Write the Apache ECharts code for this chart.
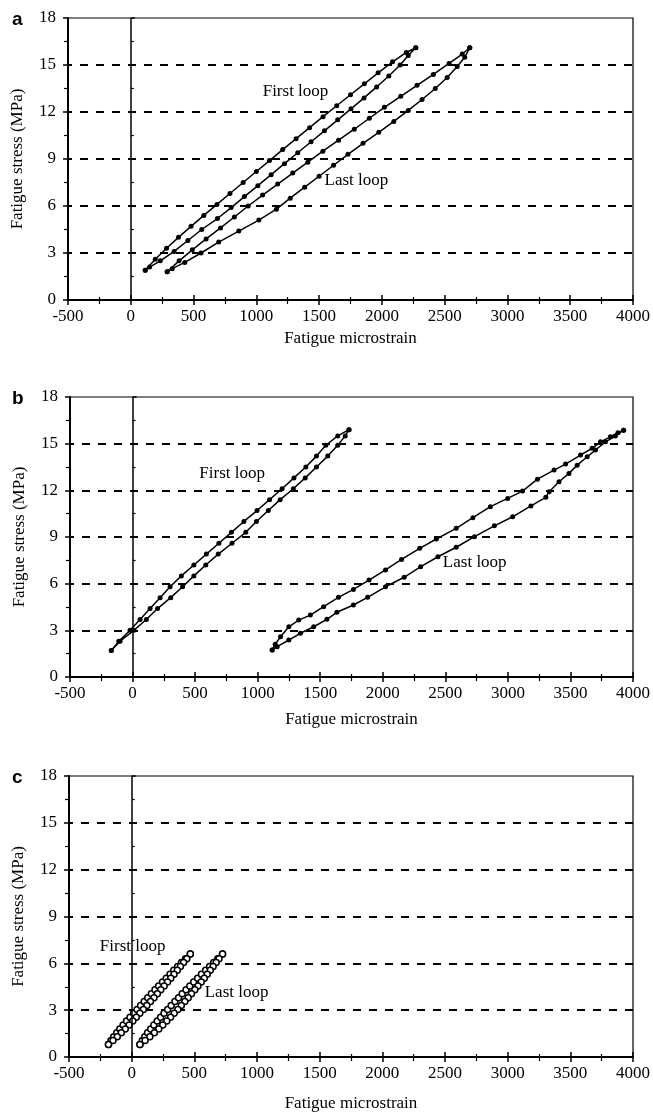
<!DOCTYPE html>
<html>
<head>
<meta charset="utf-8">
<title>Fatigue loops</title>
<script src="https://cdn.jsdelivr.net/npm/echarts@6/dist/echarts.min.js"></script>
<style>
    html, body { margin: 0; padding: 0; background: #fff; }
    #main { width: 653px; height: 1113px; }
</style>
</head>
<body>
<div id="main"></div>
<script>
// 数据 [应变, 应力]
// a 图
var aFirstUp = [[115,1.9],[195,2.6],[285,3.3],[380,4.0],[480,4.7],[582,5.4],[686,6.1],[790,6.8],[895,7.5],[1000,8.2],[1105,8.9],[1210,9.6],[1317,10.3],[1424,11.0],[1531,11.7],[1640,12.4],[1750,13.1],[1860,13.8],[1970,14.5],[2085,15.2],[2195,15.8],[2270,16.1]];
var aFirstDown = [[2270,16.1],[2210,15.6],[2145,15.0],[2055,14.3],[1958,13.6],[1858,12.9],[1754,12.2],[1648,11.5],[1542,10.8],[1436,10.1],[1330,9.4],[1224,8.7],[1118,8.0],[1012,7.3],[905,6.6],[800,5.9],[690,5.2],[565,4.5],[455,3.8],[345,3.1],[235,2.5],[150,2.1],[115,1.9]];
var aLastUp = [[290,1.8],[385,2.5],[490,3.2],[600,3.9],[715,4.6],[825,5.3],[935,6.0],[1050,6.7],[1170,7.4],[1290,8.1],[1410,8.8],[1530,9.5],[1655,10.2],[1780,10.9],[1900,11.6],[2020,12.3],[2150,13.0],[2280,13.7],[2410,14.4],[2535,15.1],[2640,15.7],[2700,16.1]];
var aLastDown = [[2700,16.1],[2660,15.5],[2600,14.9],[2520,14.2],[2425,13.5],[2320,12.8],[2210,12.1],[2095,11.4],[1975,10.7],[1850,10.0],[1730,9.3],[1615,8.6],[1500,7.9],[1385,7.2],[1270,6.5],[1160,5.8],[1020,5.1],[860,4.4],[700,3.7],[560,3.0],[430,2.4],[330,2.0],[290,1.8]];
// b 图
var bFirstUp = [[-170,1.7],[-110,2.3],[-20,3.0],[60,3.7],[140,4.4],[220,5.1],[300,5.8],[390,6.5],[490,7.2],[590,7.9],[690,8.6],[790,9.3],[890,10.0],[995,10.7],[1095,11.4],[1195,12.1],[1290,12.8],[1385,13.5],[1470,14.2],[1545,14.9],[1640,15.5],[1730,15.9]];
var bFirstDown = [[1730,15.9],[1700,15.5],[1640,14.9],[1560,14.2],[1470,13.5],[1380,12.8],[1285,12.1],[1180,11.4],[1085,10.7],[990,10.0],[905,9.3],[795,8.6],[685,7.9],[585,7.2],[490,6.5],[400,5.8],[305,5.1],[200,4.4],[110,3.7],[10,3.0],[-100,2.3],[-170,1.7]];
var bLastUp = [[1116,1.74],[1140,2.1],[1183,2.59],[1249,3.23],[1328,3.66],[1421,3.98],[1527,4.52],[1646,5.12],[1765,5.63],[1890,6.23],[2022,6.88],[2150,7.56],[2295,8.27],[2428,8.87],[2587,9.56],[2720,10.24],[2860,10.95],[2998,11.48],[3117,11.95],[3236,12.72],[3369,13.3],[3461,13.69],[3581,14.27],[3673,14.7],[3740,15.12],[3819,15.44],[3880,15.7],[3925,15.87]];
var bLastDown = [[3925,15.87],[3859,15.49],[3780,15.12],[3700,14.59],[3634,14.16],[3554,13.62],[3488,13.09],[3409,12.55],[3330,11.91],[3303,11.55],[3184,11.0],[3038,10.3],[2892,9.72],[2733,9.02],[2587,8.34],[2441,7.73],[2303,7.09],[2171,6.41],[2022,5.8],[1879,5.12],[1765,4.63],[1633,4.16],[1553,3.71],[1448,3.23],[1342,2.81],[1249,2.38],[1156,1.95],[1116,1.74]];
// c 图
var cFirstUp = [[-185,0.8],[-165,1.05],[-143,1.3],[-119,1.55],[-95,1.8],[-68,2.05],[-41,2.3],[-13,2.55],[15,2.8],[43,3.05],[71,3.3],[100,3.55],[128,3.8],[157,4.05],[186,4.3],[215,4.55],[246,4.8],[276,5.05],[306,5.3],[336,5.55],[367,5.8],[398,6.05],[430,6.3],[468,6.6]];
var cFirstDown = [[468,6.6],[440,6.3],[414,6.05],[389,5.8],[364,5.55],[338,5.3],[312,5.05],[286,4.8],[259,4.55],[232,4.3],[205,4.05],[178,3.8],[150,3.55],[121,3.3],[93,3.05],[65,2.8],[37,2.55],[9,2.3],[-20,2.05],[-51,1.8],[-83,1.55],[-115,1.3],[-149,1.05],[-185,0.8]];
var cLastUp = [[66,0.8],[85,1.05],[105,1.3],[127,1.55],[152,1.8],[177,2.05],[204,2.3],[231,2.55],[258,2.8],[287,3.05],[315,3.3],[345,3.55],[374,3.8],[403,4.05],[434,4.3],[464,4.55],[495,4.8],[526,5.05],[557,5.3],[590,5.55],[622,5.8],[655,6.05],[687,6.3],[725,6.6]];
var cLastDown = [[725,6.6],[697,6.3],[674,6.05],[650,5.8],[627,5.55],[603,5.3],[579,5.05],[555,4.8],[529,4.55],[504,4.3],[477,4.05],[451,3.8],[424,3.55],[396,3.3],[368,3.05],[339,2.8],[310,2.55],[280,2.3],[248,2.05],[216,1.8],[181,1.55],[145,1.3],[107,1.05],[66,0.8]];

// 文字标注位置 [应变, 应力]
var aLabels = [[1312,13.3],[1797,7.6]];
var bLabels = [[796,13.1],[2735,7.33]];
var cLabels = [[8,7.05],[837,4.16]];
var loopNames = ["First loop", "Last loop"];
var panelNames = ["a", "b", "c"];

// 坐标轴范围
var xMin = -500, xMax = 4000, xStep = 500;
var yMin = 0, yMax = 18, yStep = 3;

(function () {
    var myChart = echarts.init(document.getElementById("main"));
    var serif = '"Liberation Serif", "Times New Roman", serif';

    var panels = [
        { grid: { left: 68, right: 19, top: 18, height: 282 }, nameGap: 30, first: aFirstUp.concat(aFirstDown), last: aLastUp.concat(aLastDown), labels: aLabels, hollow: false },
        { grid: { left: 70, right: 17, top: 397, height: 280 }, nameGap: 34, first: bFirstUp.concat(bFirstDown), last: bLastUp.concat(bLastDown), labels: bLabels, hollow: false },
        { grid: { left: 69, right: 17, top: 776, height: 281 }, nameGap: 38, first: cFirstUp.concat(cFirstDown), last: cLastUp.concat(cLastDown), labels: cLabels, hollow: true }
    ];

    var grids = [], xAxes = [], yAxes = [], series = [], graphics = [];

    // 主坐标轴
    panels.forEach(function (p, i) {
        grids.push({
            left: p.grid.left, right: p.grid.right, top: p.grid.top, height: p.grid.height,
            show: true, borderColor: "#000", borderWidth: 1.2, backgroundColor: "transparent"
        });
        xAxes.push({
            gridIndex: i, type: "value", min: xMin, max: xMax, interval: xStep,
            name: "Fatigue microstrain", nameLocation: "middle", nameGap: p.nameGap,
            nameTextStyle: { fontFamily: serif, fontSize: 17, color: "#000" },
            axisLine: { onZero: false, lineStyle: { color: "#000", width: 2 } },
            axisTick: { length: 5, lineStyle: { color: "#000", width: 1.5 } },
            minorTick: { show: true, splitNumber: 2, length: 4, lineStyle: { color: "#000", width: 1.2 } },
            axisLabel: {
                color: "#000", fontFamily: serif, fontSize: 17, margin: 8,
                formatter: function (v) { return String(v); } // 不要千分位
            },
            splitLine: { show: false }
        });
        yAxes.push({
            gridIndex: i, type: "value", min: yMin, max: yMax, interval: yStep,
            name: "Fatigue stress (MPa)", nameLocation: "middle", nameGap: 42, nameRotate: 90,
            nameTextStyle: { fontFamily: serif, fontSize: 17, color: "#000" },
            axisLine: { onZero: false, lineStyle: { color: "#000", width: 2 } },
            axisTick: { length: 5, lineStyle: { color: "#000", width: 1.5 } },
            minorTick: { show: true, splitNumber: 2, length: 4, lineStyle: { color: "#000", width: 1.2 } },
            axisLabel: { color: "#000", fontFamily: serif, fontSize: 17, margin: 12 },
            splitLine: {
                show: true, showMinLine: false, showMaxLine: false,
                lineStyle: { color: "#000", width: 2, type: [8, 8], dashOffset: 4 }
            }
        });
    });

    // 刻度线穿过坐标轴：再叠一组朝内的刻度
    panels.forEach(function (p, i) {
        xAxes.push({
            gridIndex: i, type: "value", min: xMin, max: xMax, interval: xStep, position: "bottom",
            axisLine: { show: false },
            axisTick: { inside: true, length: 5, lineStyle: { color: "#000", width: 1.5 } },
            minorTick: { show: true, splitNumber: 2, length: 3, lineStyle: { color: "#000", width: 1.2 } },
            axisLabel: { show: false }, splitLine: { show: false }
        });
        yAxes.push({
            gridIndex: i, type: "value", min: yMin, max: yMax, interval: yStep, position: "left",
            axisLine: { show: false },
            axisTick: { inside: true, length: 4, lineStyle: { color: "#000", width: 1.5 } },
            minorTick: { show: true, splitNumber: 2, length: 3, lineStyle: { color: "#000", width: 1.2 } },
            axisLabel: { show: false }, splitLine: { show: false }
        });
    });

    // 回线
    panels.forEach(function (p, i) {
        var itemStyle = p.hollow
            ? { color: "#fff", borderColor: "#000", borderWidth: 1.5 }
            : { color: "#000" };
        [p.first, p.last].forEach(function (loop, k) {
            var s = {
                name: loopNames[k], type: "line", xAxisIndex: i, yAxisIndex: i,
                data: loop, symbol: "circle", symbolSize: p.hollow ? 6 : 5, showSymbol: true,
                lineStyle: { color: "#000", width: 1.5 }, itemStyle: itemStyle,
                animation: false, silent: true, z: 3,
                markPoint: {
                    symbol: "circle", symbolSize: 1, itemStyle: { color: "transparent" },
                    label: { show: true, position: "inside", color: "#000", fontFamily: serif, fontSize: 17, formatter: loopNames[k] },
                    data: [{ coord: p.labels[k] }]
                }
            };
            if (k === 0) {
                // x = 0 处的竖线
                s.markLine = {
                    silent: true, symbol: "none", label: { show: false },
                    lineStyle: { color: "#000", type: "solid", width: 1.5 },
                    data: [{ xAxis: 0 }]
                };
            }
            series.push(s);
        });
        graphics.push({
            type: "text", left: 12, top: p.grid.top - 8,
            style: { text: panelNames[i], font: 'bold 19px "Liberation Sans", Arial, sans-serif', fill: "#000" }
        });
    });

    var option = {
        backgroundColor: "#fff",
        animation: false,
        grid: grids,
        xAxis: xAxes,
        yAxis: yAxes,
        series: series,
        graphic: graphics
    };

    myChart.setOption(option);
    window.addEventListener("resize", function () {
        myChart.resize();
    });
})();
</script>
</body>
</html>
